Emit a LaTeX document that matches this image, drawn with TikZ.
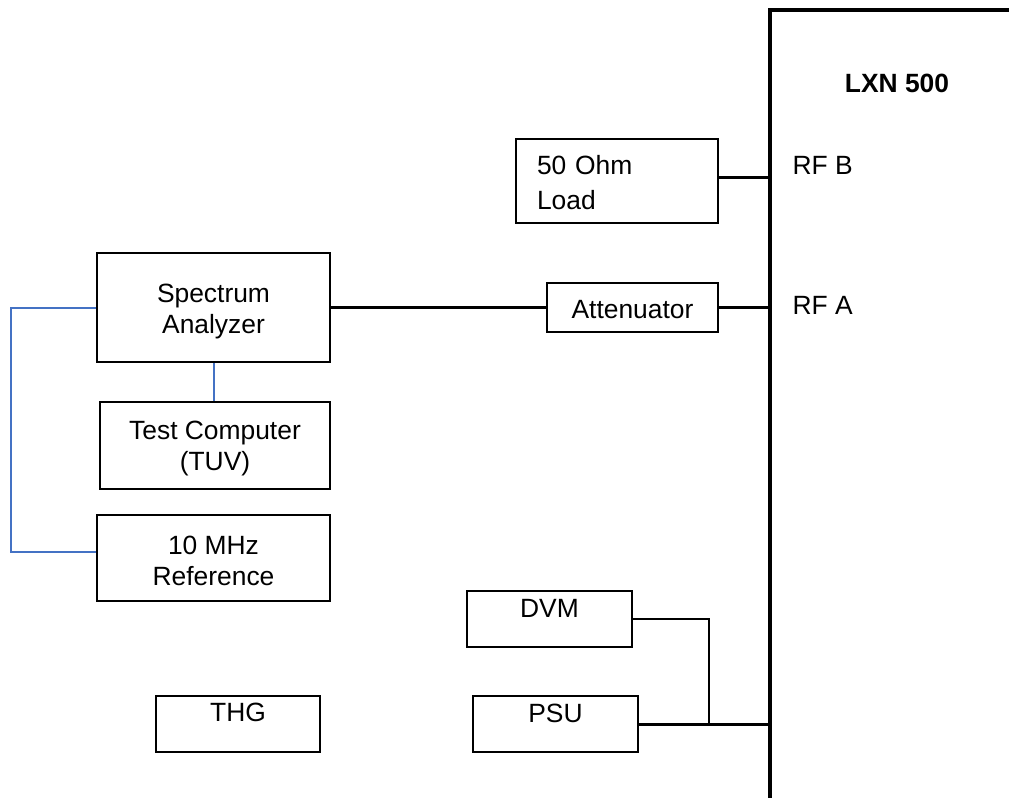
\documentclass[tikz,border=0pt]{standalone}
\usepackage{fontspec}
\setmainfont{Liberation Sans}
\usetikzlibrary{positioning}
\definecolor{LinkBlue}{RGB}{68,114,196}

\begin{document}
\begin{tikzpicture}[x=1pt, y=-1pt,
	box/.style={draw, line width=2pt, inner sep=0pt, align=center,
		font=\fontsize{26.4}{31}\selectfont},
	topbox/.style={box, text height=26pt, text depth=30pt},
	cable/.style={line width=3pt},
	link/.style={line width=2pt, LinkBlue}]
		\useasboundingbox (0,0) rectangle (1009,798);
		
		\coordinate (LXN) at (770,10);
		\coordinate (T) at (709,724);
		
		% LXN 500 outline
		\draw[line width=4.5pt] (1009,10) -- (LXN) -- (770,798);
		\node[anchor=base, font=\fontsize{26.4}{30}\selectfont\bfseries] (UUT) at (897,92) {LXN 500};
		\node[anchor=base west, font=\fontsize{26.4}{30}\selectfont] (RFB) at (789,174) {RF B};
		\node[anchor=base west, font=\fontsize{26.4}{30}\selectfont] (RFA) at (789,314) {RF A};
		
		\node[box, minimum width=233pt, text height=80pt, text depth=29pt] (SA) at (213.5,307.5) {Spectrum\\Analyzer};
		\node[box, minimum width=230pt, text height=68pt, text depth=19pt] (TC) at (215,445.5) {Test Computer\\(TUV)};
		\node[box, minimum width=233pt, text height=70pt, text depth=16pt] (REF) at (213.5,558) {10 MHz\\Reference};
		\node[box, align=left, text width=160pt, inner xsep=21pt, text height=35pt, text depth=49pt,
			font=\fontsize{26.4}{35}\selectfont] (LOAD) at (617,181) {50 Ohm\\Load};
		\node[box, minimum width=171pt, text height=35pt, text depth=14pt] (ATT) at (632.5,307.5) {Attenuator};
		\node[topbox, minimum width=165pt] (DVM) at (549.5,619) {DVM};
		\node[topbox, minimum width=165pt] (PSU) at (555.5,724) {PSU};
		\node[topbox, minimum width=164pt] (THG) at (238,723.5) {THG};
		
		% RF path
		\draw[cable] (SA.east) -- (ATT.west);
		\draw[cable] (ATT.east) -- (ATT.east -| LXN);
		\draw[cable] ([yshift=4pt]LOAD.east) -- ([yshift=4pt]LOAD.east -| LXN);
		% supply
		\draw[cable] (PSU.east) -- (PSU.east -| LXN);
		\draw[line width=2pt] (DVM.east) -| (T);
		% control and reference
		\draw[link] (SA.south) -- (SA.south |- TC.north);
		\draw[link] (SA.west) -- ++(-85,0) |- ([yshift=6pt]REF.west);
	\end{tikzpicture}
\end{document}
